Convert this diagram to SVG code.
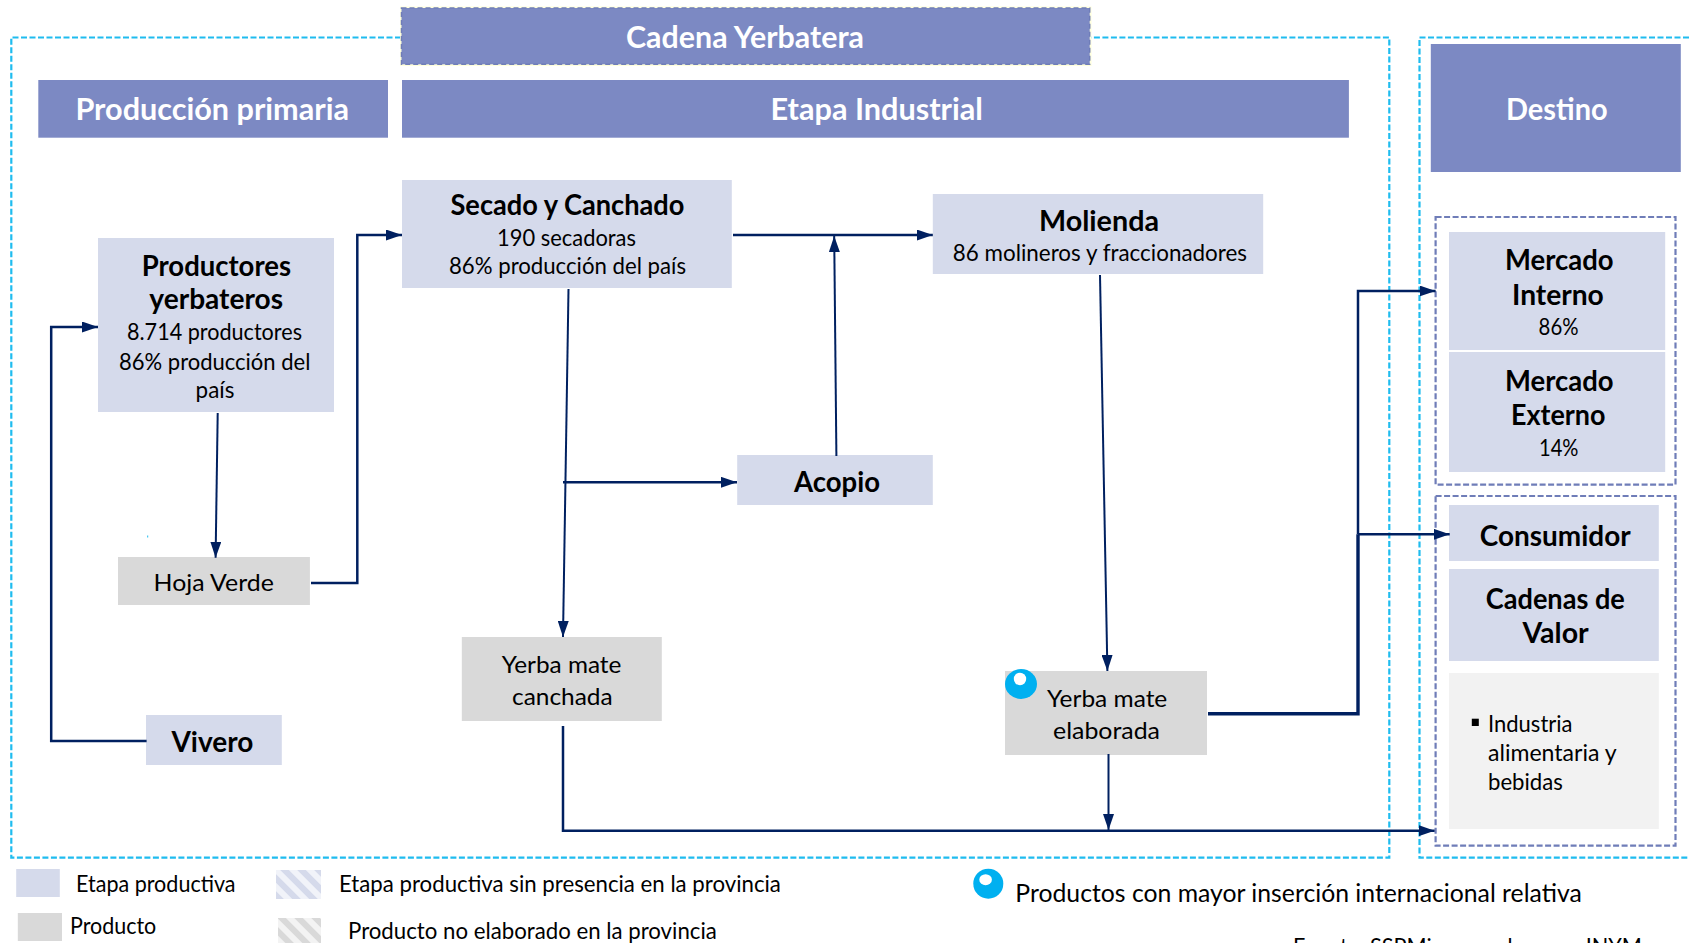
<svg xmlns="http://www.w3.org/2000/svg" width="1690" height="943" viewBox="0 0 1690 943">
<style>
text{font-family:Lato,"Open Sans","Liberation Sans",sans-serif;fill:#000}
.h{font-size:30px;font-weight:700;fill:#fff}
.t{font-size:28.5px;font-weight:700}
.s{font-size:23px}
.l{font-size:22.5px}
.hd{fill:#7C89C3}
.st{fill:#D5DAEB}
.pr{fill:#D9D9D9}
.out{fill:none;stroke:#1FBCEF;stroke-width:2.2;stroke-dasharray:6 2.5}
.grp{fill:none;stroke:#6F7DB8;stroke-width:2.2;stroke-dasharray:6 2.5}
.c{fill:none;stroke:#002060;stroke-width:2}
.c2{fill:none;stroke:#002060;stroke-width:2.5}
.c3{fill:none;stroke:#002060;stroke-width:3.4}
.ball{fill:#00B0F0}
.hi{fill:#fff}
</style>
<defs>
<marker id="a" markerUnits="userSpaceOnUse" markerWidth="16" markerHeight="11" refX="16" refY="5.5" orient="auto"><path d="M0 0L16 5.5L0 11z" fill="#002060"/></marker>
<pattern id="hb" width="12" height="12" patternUnits="userSpaceOnUse" patternTransform="rotate(-45)"><rect width="12" height="12" fill="#F1F3F9"/><rect x="3" width="6" height="12" fill="#D5DAEB"/></pattern>
<pattern id="hg" width="12" height="12" patternUnits="userSpaceOnUse" patternTransform="rotate(-45)"><rect width="12" height="12" fill="#F3F3F3"/><rect x="3" width="6" height="12" fill="#D9D9D9"/></pattern>
</defs>
<rect width="1690" height="943" fill="#fff"/>
<g id="frames">
<path class="out" d="M401 37.5H11.3V857.7H1389.3V37.5H1090"/>
<path class="out" d="M1689 37.5H1419.5V857.7H1689"/>
<rect class="grp" x="1435.6" y="217" width="239.9" height="267.7"/>
<rect class="grp" x="1435.6" y="496" width="239.9" height="349.7"/>
</g>
<g id="cadena"><rect x="400" y="6.5" width="691.5" height="59.5" fill="#FFFFDC"/><rect class="hd" x="401.5" y="8" width="688.2" height="56.3" stroke="#6F7DB8" stroke-width="1.5" stroke-dasharray="5 3"/><text class="h" x="626" y="47.5" textLength="238" lengthAdjust="spacingAndGlyphs">Cadena Yerbatera</text></g>
<g id="produccion-primaria"><rect class="hd" x="38.3" y="80" width="349.7" height="57.7"/><text class="h" x="75.4" y="120" textLength="273.6" lengthAdjust="spacingAndGlyphs">Producción primaria</text></g>
<g id="etapa-industrial"><rect class="hd" x="402" y="80" width="946.9" height="57.7"/><text class="h" x="770.6" y="120" textLength="212.4" lengthAdjust="spacingAndGlyphs">Etapa Industrial</text></g>
<g id="destino"><rect class="hd" x="1430.8" y="44" width="250" height="128"/><text class="h" x="1506" y="120" textLength="101.6" lengthAdjust="spacingAndGlyphs">Destino</text></g>
<g id="secado"><rect class="st" x="402" y="180" width="329.8" height="108"/><text class="t" x="450.5" y="215" textLength="233.9" lengthAdjust="spacingAndGlyphs">Secado y Canchado</text><text class="s" x="497" y="245.5" textLength="139" lengthAdjust="spacingAndGlyphs">190 secadoras</text><text class="s" x="449" y="273.5" textLength="237" lengthAdjust="spacingAndGlyphs">86% producción  del país</text></g>
<g id="productores"><rect class="st" x="98" y="238" width="236" height="174"/><text class="t" x="141.7" y="275.5" textLength="149.3" lengthAdjust="spacingAndGlyphs">Productores</text><text class="t" x="149.3" y="308.5" textLength="133.7" lengthAdjust="spacingAndGlyphs">yerbateros</text><text class="s" x="127" y="339.5" textLength="175" lengthAdjust="spacingAndGlyphs">8.714 productores</text><text class="s" x="119" y="369.5" textLength="191.4" lengthAdjust="spacingAndGlyphs">86% producción  del</text><text class="s" x="195.6" y="397.5" textLength="38.8" lengthAdjust="spacingAndGlyphs">país</text></g>
<g id="molienda"><rect class="st" x="932.8" y="194" width="330.4" height="80"/><text class="t" x="1039" y="230.5" textLength="120" lengthAdjust="spacingAndGlyphs">Molienda</text><text class="s" x="952.8" y="260.5" textLength="294.2" lengthAdjust="spacingAndGlyphs">86 molineros y fraccionadores</text></g>
<g id="mercado-interno"><rect class="st" x="1449" y="232" width="216.2" height="118"/><text class="t" x="1505" y="270" textLength="108.5" lengthAdjust="spacingAndGlyphs">Mercado</text><text class="t" x="1512" y="304.5" textLength="91.8" lengthAdjust="spacingAndGlyphs">Interno</text><text class="s" x="1538.6" y="334.5" textLength="39.9" lengthAdjust="spacingAndGlyphs">86%</text></g>
<g id="mercado-externo"><rect class="st" x="1449" y="352" width="216.2" height="120"/><text class="t" x="1505" y="391" textLength="108.5" lengthAdjust="spacingAndGlyphs">Mercado</text><text class="t" x="1511" y="425.2" textLength="94.4" lengthAdjust="spacingAndGlyphs">Externo</text><text class="s" x="1539" y="455.5" textLength="39.5" lengthAdjust="spacingAndGlyphs">14%</text></g>
<g id="consumidor"><rect class="st" x="1449" y="505" width="209.8" height="56"/><text class="t" x="1479.8" y="545.8" textLength="150.9" lengthAdjust="spacingAndGlyphs">Consumidor</text></g>
<g id="cadenas"><rect class="st" x="1449" y="569" width="209.8" height="92"/><text class="t" x="1485.8" y="609.2" textLength="139" lengthAdjust="spacingAndGlyphs">Cadenas de</text><text class="t" x="1522.4" y="643.2" textLength="66.3" lengthAdjust="spacingAndGlyphs">Valor</text></g>
<g id="industria"><rect x="1449" y="673" width="209.8" height="156" fill="#F2F2F2"/><rect x="1471.8" y="718.7" width="7" height="7.3" fill="#000"/><text class="s" x="1488" y="731.5" textLength="84.5" lengthAdjust="spacingAndGlyphs">Industria</text><text class="s" x="1488" y="761.2" textLength="128.7" lengthAdjust="spacingAndGlyphs">alimentaria y</text><text class="s" x="1488" y="789.5" textLength="74.8" lengthAdjust="spacingAndGlyphs">bebidas</text></g>
<g id="acopio"><rect class="st" x="737.2" y="455" width="195.6" height="50"/><text class="t" x="794" y="492.2" textLength="86" lengthAdjust="spacingAndGlyphs">Acopio</text></g>
<g id="hoja-verde"><rect class="pr" x="118" y="557" width="191.9" height="48"/><text class="s" x="153.6" y="591.2" textLength="120.2" lengthAdjust="spacingAndGlyphs">Hoja Verde</text></g>
<g id="yerba-canchada"><rect class="pr" x="461.8" y="637" width="200" height="84"/><text class="s" x="501.7" y="672.5" textLength="119.7" lengthAdjust="spacingAndGlyphs">Yerba mate</text><text class="s" x="512" y="704.8" textLength="100.7" lengthAdjust="spacingAndGlyphs">canchada</text></g>
<g id="vivero"><rect class="st" x="146" y="715" width="135.8" height="50"/><text class="t" x="171.4" y="751.5" textLength="81.9" lengthAdjust="spacingAndGlyphs">Vivero</text></g>
<g id="yerba-elaborada"><rect class="pr" x="1005" y="671" width="202" height="84"/><ellipse class="ball" cx="1021" cy="684" rx="16" ry="15"/><circle class="hi" cx="1020" cy="679" r="6.2"/><text class="s" x="1047" y="706.5" textLength="120.3" lengthAdjust="spacingAndGlyphs">Yerba mate</text><text class="s" x="1053" y="738.5" textLength="107" lengthAdjust="spacingAndGlyphs">elaborada</text></g>
<g id="connectors">
<path class="c" d="M217.7 413L215.6 557.7" marker-end="url(#a)"/>
<path class="c2" d="M311 583H357.3V235H402" marker-end="url(#a)"/>
<path class="c2" d="M146.6 741H51.2V327H98" marker-end="url(#a)"/>
<path class="c" d="M568.5 289L563 637" marker-end="url(#a)"/>
<path class="c2" d="M563 482.3H737" marker-end="url(#a)"/>
<path class="c2" d="M733 235H932.8" marker-end="url(#a)"/>
<path class="c" d="M836.4 456L834.2 236" marker-end="url(#a)"/>
<path class="c" d="M1100 275L1107.4 671" marker-end="url(#a)"/>
<path class="c3" d="M1208 713.7H1358V534.3"/>
<path class="c2" d="M1358 534.3V291H1435.6" marker-end="url(#a)"/>
<path class="c2" d="M1358 534.3H1449.7" marker-end="url(#a)"/>
<path class="c" d="M1108.5 754V830" marker-end="url(#a)"/>
<path class="c2" d="M563 726V830.7H1434.6" marker-end="url(#a)"/>
</g>
<rect x="147.2" y="535.5" width="1" height="2" fill="#1FBCEF"/>
<g id="legend">
<rect class="st" x="16.2" y="869" width="43.6" height="28"/>
<text class="l" x="76" y="892" textLength="159.5" lengthAdjust="spacingAndGlyphs">Etapa productiva</text>
<rect class="pr" x="17.8" y="913" width="44.2" height="28"/>
<text class="l" x="70" y="934" textLength="86.3" lengthAdjust="spacingAndGlyphs">Producto</text>
<rect x="276" y="870" width="45" height="29" fill="url(#hb)"/>
<text class="l" x="339" y="892" textLength="441.9" lengthAdjust="spacingAndGlyphs">Etapa productiva  sin presencia en la provincia</text>
<rect x="278" y="918" width="43" height="25" fill="url(#hg)"/>
<text class="l" x="348" y="939" textLength="368.8" lengthAdjust="spacingAndGlyphs">Producto  no elaborado en la provincia</text>
<ellipse class="ball" cx="988.3" cy="883.7" rx="15" ry="15"/><ellipse class="hi" cx="985.6" cy="879.7" rx="6.3" ry="5.5"/>
<text x="1015.3" y="902" font-size="25" textLength="566.4" lengthAdjust="spacingAndGlyphs">Productos con mayor  inserción internacional relativa</text>
<text class="l" x="1293" y="955" textLength="349" lengthAdjust="spacingAndGlyphs">Fuente: SSPMicro con base en INYM</text>
</g>
</svg>
